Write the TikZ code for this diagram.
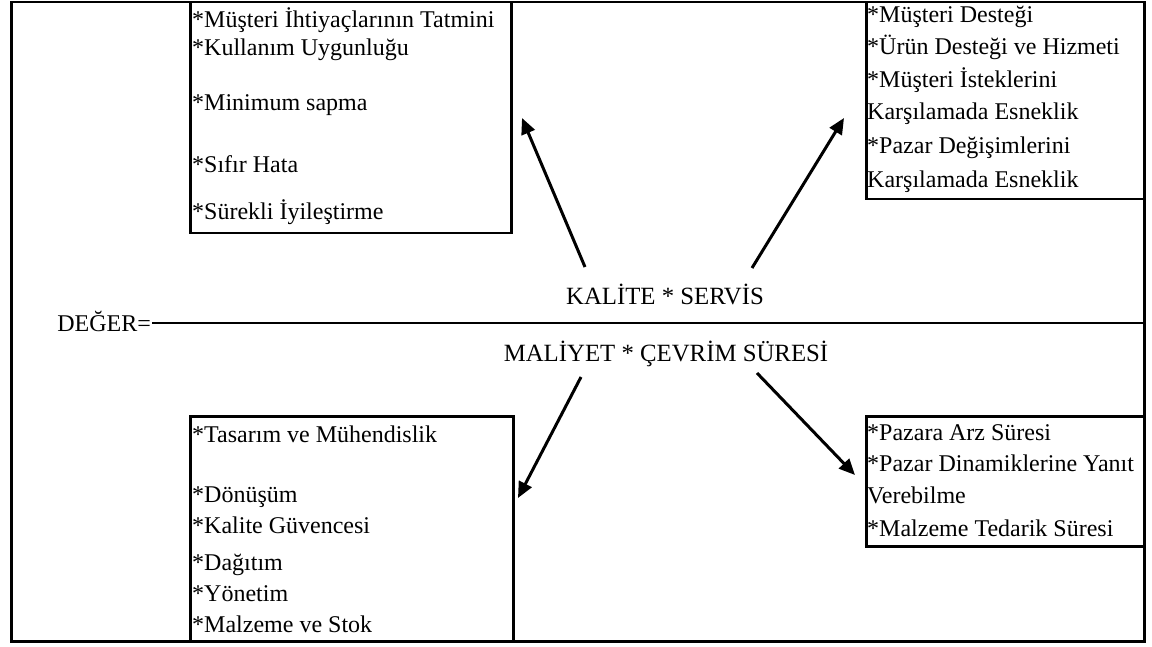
\documentclass[tikz,border=0pt]{standalone}
\usepackage{fontspec}
\setmainfont{Liberation Serif}
\usetikzlibrary{positioning,arrows.meta}

\begin{document}
\begin{tikzpicture}[x=1pt,y=-1pt]
\tikzstyle{every node}+=[inner sep=0pt,font=\fontsize{24}{28}\selectfont]
\tikzstyle{item}=[anchor=base west]
\tikzstyle{formula}=[anchor=base,font=\fontsize{24.8}{28}\selectfont]
\tikzstyle{box}=[draw,line width=2.5pt,anchor=north west]
\tikzstyle{flow}=[line width=3pt,-{Triangle[length=16pt,width=14pt]}]
\useasboundingbox (0,0) rectangle (1152,647);
% frame and boxes
\node [box,minimum width=1133pt,minimum height=639pt] (frame) at (10,1) {};
\node [box,minimum width=321pt,minimum height=231pt] (qbox) at (189,1) {};
\node [box,minimum width=278pt,minimum height=197pt] (sbox) at (865,1) {};
\node [box,minimum width=323pt,minimum height=225pt] (cbox) at (189,415) {};
\node [box,minimum width=278pt,minimum height=130pt] (tbox) at (865,415) {};
% quality
\node [item] (q1) at (192,28) {*Müşteri İhtiyaçlarının Tatmini};
\node [item] (q2) at (192,56) {*Kullanım Uygunluğu};
\node [item] (q3) at (192,111) {*Minimum sapma};
\node [item] (q4) at (192,173) {*Sıfır Hata};
\node [item] (q5) at (192,220) {*Sürekli İyileştirme};
% service
\node [item] (s1) at (867,23) {*Müşteri Desteği};
\node [item] (s2) at (867,55) {*Ürün Desteği ve Hizmeti};
\node [item] (s3) at (867,88) {*Müşteri İsteklerini};
\node [item] (s4) at (867,120) {Karşılamada Esneklik};
\node [item] (s5) at (867,154) {*Pazar Değişimlerini};
\node [item] (s6) at (867,188) {Karşılamada Esneklik};
% cost
\node [item] (c1) at (192,442) {*Tasarım ve Mühendislik};
\node [item] (c2) at (192,502) {*Dönüşüm};
\node [item] (c3) at (192,533) {*Kalite Güvencesi};
\node [item] (c4) at (192,570) {*Dağıtım};
\node [item] (c5) at (192,601) {*Yönetim};
\node [item] (c6) at (192,632) {*Malzeme ve Stok};
% cycle time
\node [item] (t1) at (867,440) {*Pazara Arz Süresi};
\node [item] (t2) at (867,471) {*Pazar Dinamiklerine Yanıt};
\node [item] (t3) at (867,503) {Verebilme};
\node [item] (t4) at (867,536) {*Malzeme Tedarik Süresi};
% value formula
\coordinate (bar) at (152,323);
\node [anchor=base east] (deger) at (151,331) {DEĞER=};
\node [formula] (kalite) at (665,305) {KALİTE * SERVİS};
\node [formula] (maliyet) at (666,361) {MALİYET * ÇEVRİM SÜRESİ};
\draw [line width=2.5pt] (bar) -- (bar -| frame.east);
% arrows
\coordinate (qtail) at (585,267);
\coordinate (qtip) at (522,118);
\coordinate (stail) at (752,268);
\coordinate (stip) at (844,118);
\coordinate (ctail) at (581,377);
\coordinate (ctip) at (518,498);
\coordinate (ttail) at (757,373);
\coordinate (ttip) at (855,475);
\draw [flow] (qtail) -- (qtip);
\draw [flow] (stail) -- (stip);
\draw [flow] (ctail) -- (ctip);
\draw [flow] (ttail) -- (ttip);
\end{tikzpicture}
\end{document}
